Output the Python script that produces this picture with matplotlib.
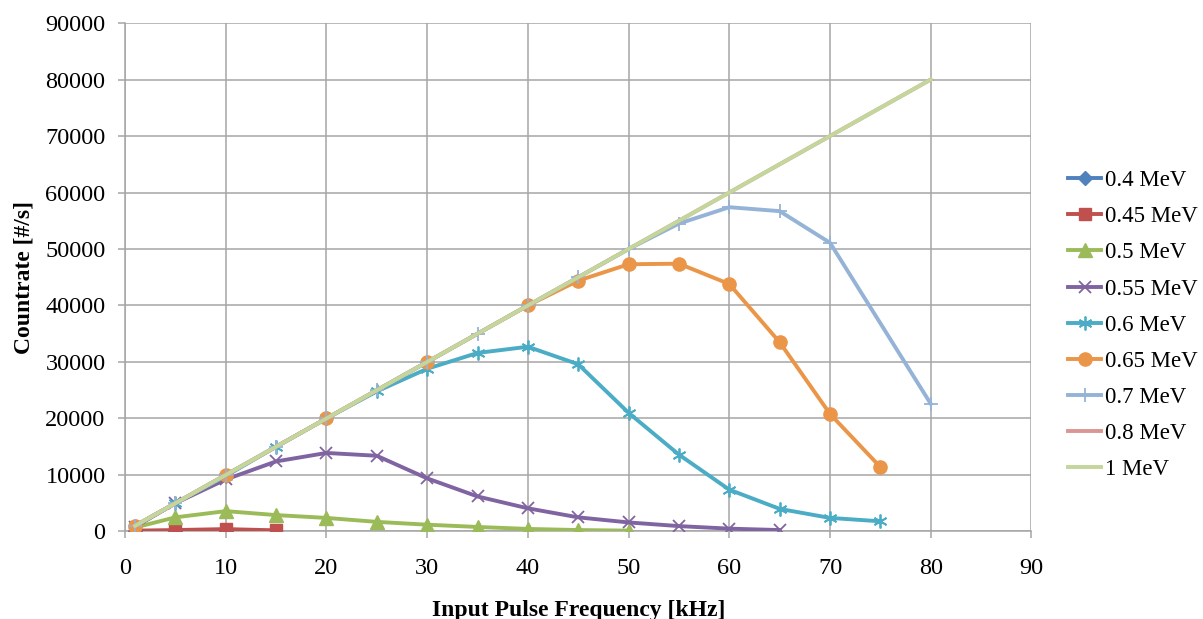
import matplotlib
matplotlib.use('Agg')
import matplotlib.pyplot as plt

# data (Countrate [#/s] vs input frequency [kHz])
x_04 = [1, 5, 10]
y_04 = [50, 30, 0]

x_045 = [1, 5, 10, 15]
y_045 = [150, 250, 420, 200]

x_05 = [1, 5, 10, 15, 20, 25, 30, 35, 40, 45, 50]
y_05 = [700, 2500, 3600, 2900, 2400, 1700, 1200, 800, 450, 250, 150]

x_055 = [1, 5, 10, 15, 20, 25, 30, 35, 40, 45, 50, 55, 60, 65]
y_055 = [800, 5000, 9200, 12400, 13900, 13400, 9400, 6200, 4100, 2500, 1600, 950, 500, 250]

x_06 = [1, 5, 10, 15, 20, 25, 30, 35, 40, 45, 50, 55, 60, 65, 70, 75]
y_06 = [1000, 5000, 9800, 15000, 20000, 24800, 28800, 31600, 32700, 29600,
        21000, 13600, 7400, 4000, 2400, 1800]

x_065 = [1, 10, 20, 30, 40, 45, 50, 55, 60, 65, 70, 75]
y_065 = [1000, 10000, 20000, 30000, 40000, 44400, 47300, 47400, 43800, 33500, 20800, 11400]

x_07 = [1, 5, 10, 15, 20, 25, 30, 35, 40, 45, 50, 55, 60, 65, 70, 80]
y_07 = [1000, 5000, 10000, 15000, 20000, 25000, 30000, 35000, 40000, 45000,
        50000, 54500, 57400, 56700, 51100, 22600]

x_08 = [1, 5, 10, 15, 20, 25, 30, 35, 40, 45, 50, 55, 60, 65, 70, 75, 80]
y_08 = [1000, 5000, 10000, 15000, 20000, 25000, 30000, 35000, 40000, 45000,
        50000, 55000, 60000, 65000, 70000, 75000, 80000]

x_1 = [1, 5, 10, 15, 20, 25, 30, 35, 40, 45, 50, 55, 60, 65, 70, 75, 80]
y_1 = [1000, 5000, 10000, 15000, 20000, 25000, 30000, 35000, 40000, 45000,
       50000, 55000, 60000, 65000, 70000, 75000, 80000]

x_ticks = list(range(0, 91, 10))
y_ticks = list(range(0, 90001, 10000))

plt.rcParams['font.family'] = ['Liberation Serif', 'DejaVu Serif']

fig = plt.figure(figsize=(12.03, 6.19), dpi=100)
ax = fig.add_axes([0.1039, 0.1414, 0.7535, 0.8214])

series = [
    (x_04, y_04, '0.4 MeV', '#4F81BD', dict(marker='D', markersize=7)),
    (x_045, y_045, '0.45 MeV', '#C0504D', dict(marker='s', markersize=9)),
    (x_05, y_05, '0.5 MeV', '#9BBB59', dict(marker='^', markersize=9.5)),
    (x_055, y_055, '0.55 MeV', '#8064A2', dict(marker='x', markersize=9, markeredgewidth=1.3)),
    (x_06, y_06, '0.6 MeV', '#4BACC6', dict(marker=(6, 2, 0), markersize=10, markeredgewidth=1.3)),
    (x_065, y_065, '0.65 MeV', '#EB9548', dict(marker='o', markersize=9.5)),
    (x_07, y_07, '0.7 MeV', '#95B3D7', dict(marker='+', markersize=10, markeredgewidth=1.3)),
    (x_08, y_08, '0.8 MeV', '#D99694', dict(marker='_', markersize=5, markeredgewidth=1.2)),
    (x_1, y_1, '1 MeV', '#C3D69B', dict()),
]

for i, (xs, ys, label, color, mk) in enumerate(series):
    ax.plot(xs, ys, color=color, linewidth=2.8, label=label, zorder=3 + i,
            solid_joinstyle='round', **mk)

ax.set_xlim(0, 90)
ax.set_ylim(0, 90000)
ax.set_xticks(x_ticks)
ax.set_yticks(y_ticks)
ax.grid(True, color='#A6A6A6', linewidth=1.1)
ax.set_axisbelow(True)

for side in ['top', 'right']:
    ax.spines[side].set_visible(False)
for side in ['left', 'bottom']:
    ax.spines[side].set_color('#A6A6A6')
    ax.spines[side].set_linewidth(1.1)

ax.tick_params(axis='both', direction='out', length=5, width=1.1, color='#A6A6A6',
               labelsize=17.5)
ax.tick_params(axis='x', pad=14)
ax.tick_params(axis='y', pad=9)

ax.set_xlabel('Input Pulse Frequency [kHz]', fontsize=17, fontweight='bold', labelpad=15)
ax.set_ylabel('Countrate [#/s]', fontsize=17, fontweight='bold', labelpad=8)

ax.legend(loc='upper left', bbox_to_anchor=(1068 / 1203, 1 - 170 / 619),
          bbox_transform=fig.transFigure, frameon=False, fontsize=16.5,
          borderpad=0, borderaxespad=0, labelspacing=0.66,
          handlelength=1.45, handletextpad=0.15)

fig.savefig('out.png', dpi=100)
